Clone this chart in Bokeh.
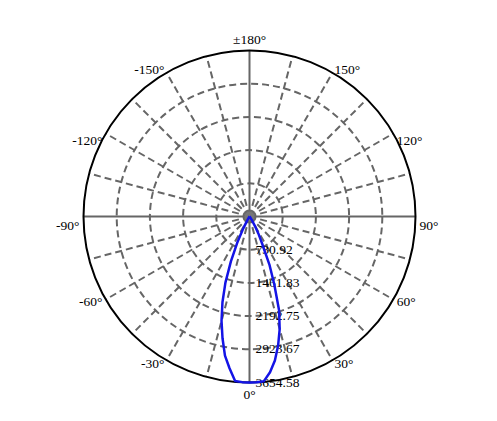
import numpy as np
from bokeh.plotting import figure
from bokeh.models import Range1d, ColumnDataSource
from bokeh.embed import file_html
from bokeh.resources import INLINE
from bokeh.core.properties import value

# ---- data ----
angles_deg = [-180, -170, -160, -150, -140, -130, -120, -110, -100, -90, -80, -70, -60, -50,
              -45, -40, -35, -32.5, -30, -27.5, -25, -22.5, -20, -17.5, -15, -12.5, -10, -7.5, -5, -2.5,
              0, 2.5, 5, 7.5, 10, 12.5, 15, 17.5, 20, 22.5, 25, 27.5, 30, 32.5, 35, 40, 45,
              50, 60, 70, 80, 90, 100, 110, 120, 130, 140, 150, 160, 170, 180]
intensity = [0, 0, 0, 0, 0, 0, 0, 0, 0, 0, 0, 0, 0, 2,
             3, 5, 15, 40, 110, 300, 640, 1070, 1550, 1980, 2380, 2745, 3110, 3370, 3635, 3650,
             3654.58, 3652, 3639, 3460, 3220, 2910, 2567, 2165, 1600, 1145, 656, 420, 230, 110, 45, 15, 5,
             2, 0, 0, 0, 0, 0, 0, 0, 0, 0, 0, 0, 0, 0]
ring_values = [730.92, 1461.83, 2192.75, 2923.67, 3654.58]
ring_labels = ["730.92", "1461.83", "2192.75", "2923.67", "3654.58"]
angle_ticks = [0, 30, 60, 90, 120, 150, 180, -150, -120, -90, -60, -30]
angle_tick_labels = ["0°", "30°", "60°", "90°", "120°", "150°", "±180°",
                     "-150°", "-120°", "-90°", "-60°", "-30°"]
spoke_angles = list(range(0, 360, 15))

# ---- layout ----
W, H = 480, 405
CX, CY = 249, 216
RPX = 166
R = max(ring_values)
s = R / RPX
FONT = value("Liberation Serif")

p = figure(width=W, height=H, output_backend="svg", toolbar_location=None,
           x_range=Range1d(-CX * s, (W - CX) * s), y_range=Range1d(-(H - CY) * s, CY * s),
           min_border=0, x_axis_location=None, y_axis_location=None)
p.grid.visible = False
p.outline_line_color = None

# dashed spokes
th = np.radians([a for a in spoke_angles if a % 90 != 0])
p.segment(x0=0, y0=0, x1=R * np.sin(th), y1=-R * np.cos(th),
          line_color="#666666", line_width=2, line_dash="7 4")
# solid axes
th2 = np.radians([0, 90])
p.segment(x0=-R * np.sin(th2), y0=R * np.cos(th2), x1=R * np.sin(th2), y1=-R * np.cos(th2),
          line_color="#666666", line_width=2)

# dashed rings
p.circle(x=0, y=0, radius=ring_values[:-1], fill_color=None,
         line_color="#666666", line_width=2, line_dash="7 4")
# outer circle
p.circle(x=0, y=0, radius=R, fill_color=None, line_color="black", line_width=2)
# center hub
p.scatter(x=[0], y=[0], size=10, fill_color="#777777", line_color=None)

# ring labels
p.text(x=6 * s, y=[-v for v in ring_values], text=ring_labels,
       text_align="left", text_baseline="middle", text_font=FONT,
       text_font_size="13.5px", text_color="black")

# angle labels
ta = np.radians(angle_ticks)
lr = 170 * s
aligns, bases, yoffs = [], [], []
for a in angle_ticks:
    sa = np.sin(np.radians(a))
    aligns.append("left" if sa > 0.01 else ("right" if sa < -0.01 else "center"))
    if a == 0:
        bases.append("top")
    elif abs(a) == 180:
        bases.append("bottom")
    else:
        bases.append("middle")
    yoffs.append(9 if 80 < abs(a) < 130 else 0)
src = ColumnDataSource(dict(x=lr * np.sin(ta), y=-lr * np.cos(ta), t=angle_tick_labels,
                            al=aligns, bl=bases, yo=yoffs))
p.text(x="x", y="y", text="t", source=src, text_align="al", text_baseline="bl",
       y_offset="yo", text_font=FONT, text_font_size="13.5px", text_color="black")

# intensity curve
ang = np.radians(angles_deg)
iv = np.array(intensity)
p.line(x=iv * np.sin(ang), y=-iv * np.cos(ang), line_color="#1414e6", line_width=2.5)

open("out.html", "w").write(file_html(p, INLINE))
